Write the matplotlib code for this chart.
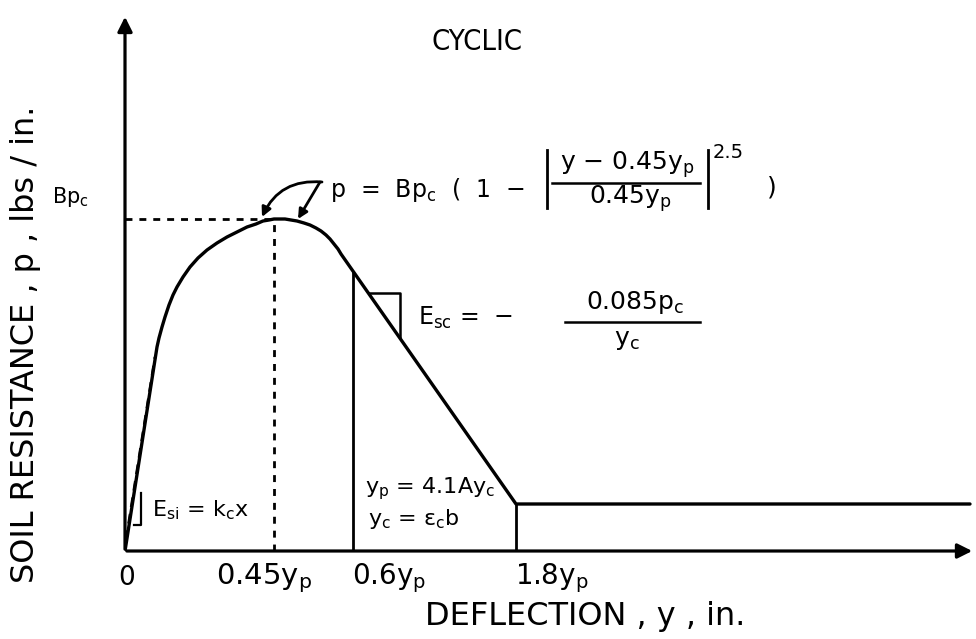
import matplotlib
matplotlib.use('Agg')
import matplotlib.pyplot as plt

# Sketch units: x to the right of the origin, y up from the deflection axis
curve_x = [0, 32, 34, 37, 40, 44, 48, 52, 58, 65, 73, 82, 92, 102, 112, 122, 131, 138, 144,
           149, 155, 160, 166, 172, 179, 185, 191, 196, 201, 205, 209, 213, 216, 391, 845]
curve_y = [0, 204, 213, 224, 234, 246, 256, 264, 274, 284, 293, 301, 308, 314, 319, 324, 327, 330, 331,
           332, 332, 332, 331, 330, 328, 326, 323, 320, 316, 312, 307, 302, 297, 47, 47]

# dashed initial tangent
tangent_x = [1, 30]
tangent_y = [11, 194]

# key deflections on the x axis and their labels
tick_x = [0, 149, 228, 391]
tick_labels = ['0', '0.45y$_p$', '0.6y$_p$', '1.8y$_p$']
peak_y = 332          # Bp_c level
residual_y = 47       # plateau beyond 1.8 y_p
drop_top_y = 279      # top of the 0.6 y_p marker

plt.rcParams['font.family'] = ['DejaVu Sans']
plt.rcParams['mathtext.default'] = 'regular'

fig = plt.figure(figsize=(9.76, 6.39), dpi=100)
ax = fig.add_axes([125 / 976, 88 / 639, 850 / 976, 540 / 639])
ax.set_xlim(0, 850)
ax.set_ylim(0, 540)
ax.axis('off')

k = 'black'
cond = dict(family='DejaVu Sans', stretch='condensed', color=k)
wide = dict(family='DejaVu Sans', color=k)

# axes with arrow heads
ax.annotate('', xy=(850, 0), xytext=(-1, 0),
            arrowprops=dict(arrowstyle='-|>', color=k, lw=2.3, mutation_scale=22), annotation_clip=False)
ax.annotate('', xy=(0, 537), xytext=(0, -1),
            arrowprops=dict(arrowstyle='-|>', color=k, lw=2.3, mutation_scale=22), annotation_clip=False)

# p-y curve
ax.plot(curve_x, curve_y, color=k, lw=2.4, solid_joinstyle='round', solid_capstyle='round')
ax.plot(tangent_x, tangent_y, color=k, lw=2, dashes=(3.5, 2.5))

# guide lines
ax.plot([0, tick_x[1]], [peak_y, peak_y], color=k, lw=2, dashes=(2.5, 2.5))
ax.plot([tick_x[1], tick_x[1]], [0, peak_y], color=k, lw=2, dashes=(2.5, 2.5))
ax.plot([tick_x[2], tick_x[2]], [0, drop_top_y], color=k, lw=2)
ax.plot([tick_x[3], tick_x[3]], [0, residual_y], color=k, lw=2)

# slope markers
ax.plot([9, 16, 16], [26, 26, 58], color=k, lw=1.6)
ax.plot([244, 275, 275], [258, 258, 214], color=k, lw=1.8)

# axis tick labels
for xv, lab in zip(tick_x, tick_labels):
    if xv == 0:
        ax.text(xv + 2, -27, lab, ha='center', va='center', fontsize=19, **wide)
    elif xv < 200:
        ax.text(xv - 10, -27, lab, ha='center', va='center', fontsize=21, **wide)
    else:
        ax.text(xv - 1, -27, lab, ha='left', va='center', fontsize=20, **wide)
ax.text(-73, 354, 'Bp$_c$', ha='left', va='center', fontsize=15, **wide)

ax.text(460, -66, 'DEFLECTION , y , in.', ha='center', va='center', fontsize=23, **wide)
ax.text(-99, 207, 'SOIL RESISTANCE , p , lbs / in.', ha='center', va='center',
        rotation=90, fontsize=23, **wide)
ax.text(352, 509, 'CYCLIC', ha='center', va='center', fontsize=21, **cond)

# peak equation
ax.text(205, 361, 'p  =  Bp$_c$  (  1  \u2212', ha='left', va='center', fontsize=17, **wide)
ax.plot([422, 422], [343, 401], color=k, lw=2)
ax.plot([583, 583], [343, 401], color=k, lw=2)
ax.plot([427, 575], [368, 368], color=k, lw=1.8)
ax.text(502, 386, 'y \u2212 0.45y$_p$', ha='center', va='center', fontsize=18, **wide)
ax.text(505, 352, '0.45y$_p$', ha='center', va='center', fontsize=18, **wide)
ax.text(603, 398, '2.5', ha='center', va='center', fontsize=14, **wide)
ax.text(647, 363, ')', ha='center', va='center', fontsize=18, **wide)

ax.annotate('', xy=(137, 334), xytext=(197, 369),
            arrowprops=dict(arrowstyle='-|>', color=k, lw=2, mutation_scale=14,
                            connectionstyle='arc3,rad=0.35', shrinkA=0, shrinkB=0))
ax.annotate('', xy=(173, 332), xytext=(195, 369),
            arrowprops=dict(arrowstyle='-|>', color=k, lw=2, mutation_scale=14,
                            shrinkA=0, shrinkB=0))

# degradation slope
ax.text(293, 233, 'E$_{sc}$ =  \u2212', ha='left', va='center', fontsize=17, **wide)
ax.plot([440, 575], [229, 229], color=k, lw=1.8)
ax.text(510, 249, '0.085p$_c$', ha='center', va='center', fontsize=18, **wide)
ax.text(502, 211, 'y$_c$', ha='center', va='center', fontsize=18, **wide)

ax.text(240, 62, 'y$_p$ = 4.1Ay$_c$', ha='left', va='center', fontsize=16, **wide)
ax.text(243, 32, 'y$_c$ = \u03b5$_c$b', ha='left', va='center', fontsize=16, **wide)
ax.text(27, 41, 'E$_{si}$ = k$_c$x', ha='left', va='center', fontsize=16, **wide)

fig.savefig('out.png', dpi=100)
